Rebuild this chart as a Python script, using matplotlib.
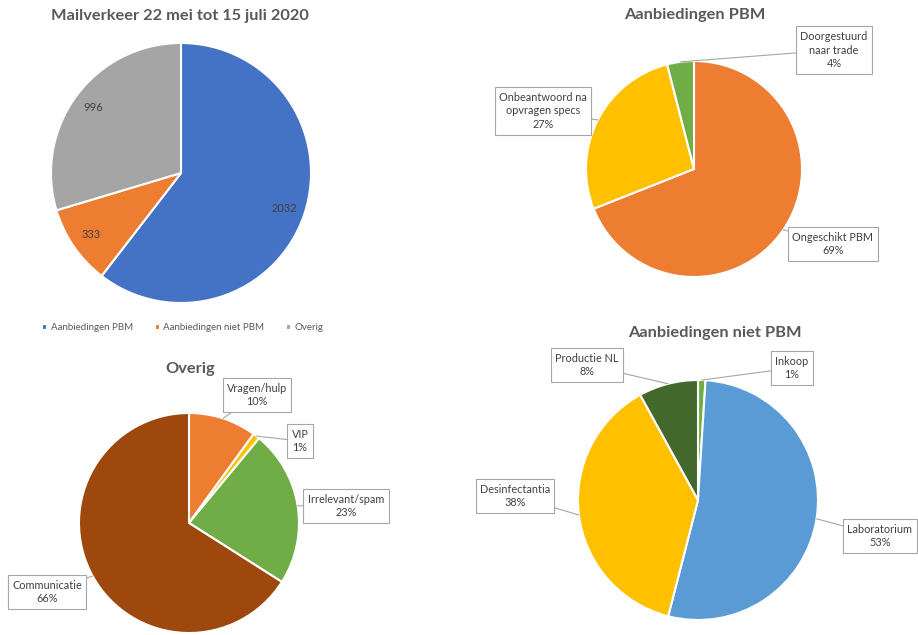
import numpy as np
import matplotlib.pyplot as plt

W, H = 918, 635

# data
mail_labels = ["Aanbiedingen PBM", "Aanbiedingen niet PBM", "Overig"]
mail_values = [2032, 333, 996]
mail_colors = ["#4472C4", "#ED7D31", "#A5A5A5"]

pbm_labels = ["Ongeschikt PBM", "Onbeantwoord na\nopvragen specs", "Doorgestuurd\nnaar trade"]
pbm_values = [69, 27, 4]
pbm_colors = ["#ED7D31", "#FFC000", "#70AD47"]

overig_labels = ["Vragen/hulp", "VIP", "Irrelevant/spam", "Communicatie"]
overig_values = [10, 1, 23, 66]
overig_colors = ["#ED7D31", "#FFC000", "#70AD47", "#9E480E"]

niet_labels = ["Inkoop", "Laboratorium", "Desinfectantia", "Productie NL"]
niet_values = [1, 53, 38, 8]
niet_colors = ["#70AD47", "#5B9BD5", "#FFC000", "#43682B"]

plt.rcParams['font.family'] = ['Lato', 'DejaVu Sans']
txt_col = "#404040"
title_col = "#595959"

fig = plt.figure(figsize=(W / 100, H / 100), dpi=100)
fig.patch.set_facecolor("white")


def pie_axes(cx, cy, r):
    ax = fig.add_axes([(cx - r) / W, 1 - (cy + r) / H, 2 * r / W, 2 * r / H])
    ax.set_xlim(-1, 1)
    ax.set_ylim(-1, 1)
    ax.axis('off')
    return ax


def draw_pie(ax, values, colors):
    wedges, _ = ax.pie(values, colors=colors, startangle=90, counterclock=False,
                       radius=1, wedgeprops=dict(edgecolor="white", linewidth=1.5))
    ax.set_xlim(-1, 1)
    ax.set_ylim(-1, 1)
    return wedges


def callouts(ax, wedges, labels, values, boxes, fs=7.8):
    for w, lab, v, (px, py) in zip(wedges, labels, values, boxes):
        mid = np.deg2rad((w.theta1 + w.theta2) / 2)
        xy = (np.cos(mid), np.sin(mid))
        ax.annotate(f"{lab}\n{v}%", xy=xy, xycoords='data',
                    xytext=(px, H - py), textcoords='figure pixels',
                    ha='center', va='center', fontsize=fs, color=txt_col,
                    linespacing=1.3, annotation_clip=False,
                    bbox=dict(boxstyle="square,pad=0.4", fc="white", ec="#A6A6A6", lw=0.8),
                    arrowprops=dict(arrowstyle="-", color="#A6A6A6", lw=0.8,
                                    shrinkA=0, shrinkB=0))


# Mailverkeer
ax1 = pie_axes(181, 173, 130)
total = sum(mail_values)
w1, _, _ = ax1.pie(mail_values, colors=mail_colors, startangle=90, counterclock=False,
                   radius=1, wedgeprops=dict(edgecolor="white", linewidth=1.5),
                   autopct=lambda p: f"{round(p * total / 100)}", pctdistance=0.84,
                   textprops=dict(fontsize=8, color=txt_col))
ax1.set_xlim(-1, 1)
ax1.set_ylim(-1, 1)
fig.text(180 / W, 1 - 16 / H, "Mailverkeer 22 mei tot 15 juli 2020", ha='center', va='center',
         fontsize=11.8, fontweight='bold', color=title_col)
fig.legend(w1, mail_labels, loc='center', bbox_to_anchor=(183 / W, 1 - 328 / H), ncol=3,
           frameon=False, fontsize=7, handlelength=0.5, handleheight=0.5, handletextpad=0.4,
           columnspacing=2.2, labelcolor=title_col)

# Aanbiedingen PBM
ax2 = pie_axes(694, 169, 108)
w2 = draw_pie(ax2, pbm_values, pbm_colors)
fig.text(695 / W, 1 - 15 / H, "Aanbiedingen PBM", ha='center', va='center',
         fontsize=11.8, fontweight='bold', color=title_col)
callouts(ax2, w2, pbm_labels, pbm_values, [(833, 244), (543, 111), (834, 50)])

# Overig
ax3 = pie_axes(189, 523, 110)
w3 = draw_pie(ax3, overig_values, overig_colors)
fig.text(190 / W, 1 - 369 / H, "Overig", ha='center', va='center',
         fontsize=11.8, fontweight='bold', color=title_col)
callouts(ax3, w3, overig_labels, overig_values, [(257, 395), (300, 441), (346, 506), (47, 592)])

# Aanbiedingen niet PBM
ax4 = pie_axes(698, 500, 120)
w4 = draw_pie(ax4, niet_values, niet_colors)
fig.text(715 / W, 1 - 333 / H, "Aanbiedingen niet PBM", ha='center', va='center',
         fontsize=11.8, fontweight='bold', color=title_col)
callouts(ax4, w4, niet_labels, niet_values, [(792, 368), (880, 536), (515, 496), (587, 365)])

fig.savefig("out.png", dpi=100, facecolor="white")
